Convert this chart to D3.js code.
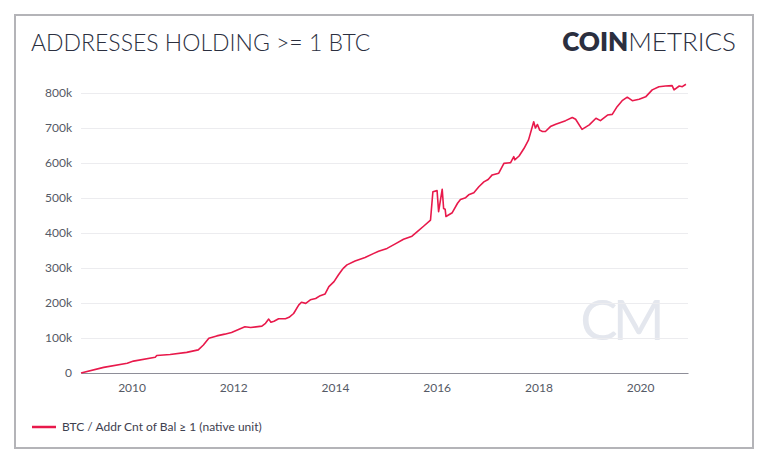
<!DOCTYPE html>
<html>
<head>
<meta charset="utf-8">
<script src="https://cdn.jsdelivr.net/npm/d3@7"></script>
<style>
  html, body { margin: 0; padding: 0; background: #fff; }
  svg { display: block; font-family: Lato, "Open Sans", sans-serif; }
</style>
</head>
<body>
<svg id="chart" width="768" height="465"></svg>
<script>
const title = "ADDRESSES HOLDING >= 1 BTC";
const seriesName = "BTC / Addr Cnt of Bal \u2265 1 (native unit)";
const yTicks = [0, 100000, 200000, 300000, 400000, 500000, 600000, 700000, 800000];
const yTickLabels = ["0", "100k", "200k", "300k", "400k", "500k", "600k", "700k", "800k"];
const xTickYears = [2010, 2012, 2014, 2016, 2018, 2020];
const dates = [
  "2009-01-03","2009-06-15","2009-12-01","2010-01-15","2010-06-20","2010-07-01","2010-10-05",
  "2011-02-01","2011-04-25","2011-06-01","2011-07-10","2011-09-05","2011-11-01","2011-12-20",
  "2012-03-25","2012-05-05","2012-07-25","2012-08-20","2012-09-12","2012-09-28","2012-10-20","2012-11-22",
  "2013-01-10","2013-02-05","2013-03-10","2013-04-15","2013-05-05","2013-06-05","2013-07-08","2013-08-15",
  "2013-09-17","2013-10-22","2013-11-18","2013-12-25",
  "2014-01-25","2014-02-20","2014-03-01","2014-03-28","2014-05-25","2014-08-05","2014-10-03","2014-11-10",
  "2015-01-10","2015-03-10","2015-05-08","2015-07-08","2015-08-15","2015-10-01","2015-11-18","2015-12-05",
  "2016-01-04","2016-01-15","2016-02-10","2016-02-20","2016-03-02","2016-03-08","2016-04-22","2016-05-30",
  "2016-06-20","2016-07-27","2016-08-18","2016-09-24","2016-10-30","2016-12-05",
  "2017-01-05","2017-02-03","2017-03-22","2017-04-28","2017-06-15","2017-07-08","2017-07-15","2017-08-15",
  "2017-09-20","2017-10-22","2017-11-28","2017-12-10","2017-12-25","2018-01-10",
  "2018-01-30","2018-02-20","2018-03-28","2018-05-05","2018-07-15","2018-09-01","2018-09-25","2018-11-10",
  "2019-01-01","2019-02-18","2019-03-22","2019-05-12","2019-06-15","2019-07-20","2019-08-25","2019-10-01",
  "2019-11-06","2019-12-25",
  "2020-02-10","2020-03-28","2020-05-15","2020-07-01","2020-08-18","2020-09-01","2020-10-08","2020-10-30","2020-11-25"
];
const values = [
  0, 16000, 28000, 34000, 45000, 50000, 53000,
  59000, 66000, 80000, 99000, 106000, 111000, 116000,
  132000, 130000, 134000, 142000, 154000, 145000, 148000, 155000,
  155000, 159000, 170000, 194000, 202000, 199000, 209000, 213000,
  221000, 226000, 247000, 261000,
  280000, 294000, 299000, 309000, 320000, 330000, 341000, 348000,
  356000, 369000, 382000, 391000, 404000, 420000, 437000, 518000,
  521000, 461000, 525000, 470000, 468000, 447000, 458000, 485000,
  496000, 501000, 509000, 515000, 532000, 546000,
  553000, 566000, 571000, 599000, 601000, 618000, 609000, 620000,
  642000, 666000, 718000, 700000, 710000, 694000,
  690000, 690000, 704000, 711000, 721000, 730000, 725000, 696000,
  709000, 728000, 721000, 737000, 739000, 761000, 778000, 788000,
  778000, 782000,
  789000, 809000, 818000, 820000, 821000, 809000, 820000, 818000, 825000
];

const parse = d3.timeParse("%Y-%m-%d");
const data = dates.map((d, i) => ({ date: parse(d), value: values[i] }));

const svg = d3.select("#chart");
const plot = { left: 81, right: 688, top: 93, bottom: 373 };

// frame
svg.append("rect").attr("x", 15).attr("y", 15).attr("width", 738).attr("height", 433)
  .attr("fill", "#fff").attr("stroke", "#b4b4b8").attr("stroke-width", 2);

// title
svg.append("text").attr("x", 31).attr("y", 51).text(title)
  .attr("font-size", 23).attr("font-weight", 300).attr("fill", "#2b2f3f");

// logo
const logo = svg.append("text").attr("x", 736).attr("y", 51).attr("text-anchor", "end")
  .attr("font-size", 26).attr("fill", "#2b2f3f");
logo.append("tspan").attr("font-weight", 800).text("COIN");
logo.append("tspan").attr("font-weight", 300).text("METRICS");

const x = d3.scaleTime()
  .domain([parse("2009-01-03"), parse("2020-12-10")])
  .range([plot.left, plot.right]);
const y = d3.scaleLinear().domain([0, 800000]).range([plot.bottom, plot.top]);

// watermark
svg.append("text").attr("x", 620).attr("y", 340).attr("text-anchor", "middle")
  .attr("font-size", 56).attr("font-weight", 400).attr("fill", "#e4e7ee")
  .attr("letter-spacing", -5).text("CM");

// grid + y axis
const yAxis = d3.axisLeft(y).tickValues(yTicks)
  .tickFormat((d, i) => yTickLabels[i])
  .tickSize(-(plot.right - plot.left)).tickPadding(9);
const gy = svg.append("g").attr("transform", `translate(${plot.left},0)`).call(yAxis);
gy.select(".domain").remove();
gy.selectAll(".tick line").attr("stroke", "#ececef").attr("stroke-width", 1);
gy.selectAll(".tick text").attr("font-size", 12).attr("fill", "#555a66")
  .attr("font-family", "Lato, sans-serif");
gy.selectAll(".tick").filter(d => d === 0).select("line").remove();

// x axis
const xAxis = d3.axisBottom(x)
  .tickValues(xTickYears.map(yr => new Date(yr, 0, 1)))
  .tickFormat(d3.timeFormat("%Y")).tickSize(0).tickPadding(10);
const gx = svg.append("g").attr("transform", `translate(0,${plot.bottom})`).call(xAxis);
gx.select(".domain").attr("stroke", "#8e8e98").attr("stroke-width", 1.2);
gx.selectAll(".tick text").attr("font-size", 12).attr("fill", "#555a66")
  .attr("font-family", "Lato, sans-serif");

// line
const line = d3.line().x(d => x(d.date)).y(d => y(d.value));
svg.append("path").datum(data).attr("d", line)
  .attr("fill", "none").attr("stroke", "#e8194b").attr("stroke-width", 1.6)
  .attr("stroke-linejoin", "round");

// legend
svg.append("line").attr("x1", 32).attr("x2", 56).attr("y1", 427).attr("y2", 427)
  .attr("stroke", "#e8194b").attr("stroke-width", 2.5);
svg.append("text").attr("x", 62).attr("y", 431).text(seriesName)
  .attr("font-size", 12).attr("fill", "#3e4150");
</script>
</body>
</html>
